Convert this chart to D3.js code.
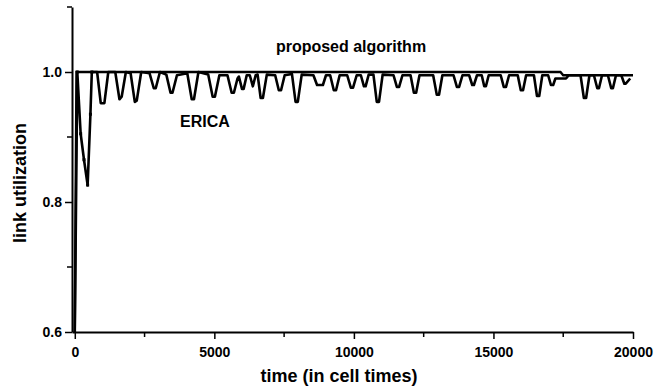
<!DOCTYPE html>
<html>
<head>
<meta charset="utf-8">
<script src="https://cdn.jsdelivr.net/npm/d3@7"></script>
<style>
    body { margin: 0; background: #fff; }
    #chart { width: 654px; height: 386px; }
    .tickLabel { font-family: "Liberation Sans", Arial, sans-serif; font-weight: bold; font-size: 14px; fill: #000; }
    .axisTitle { font-family: "Liberation Sans", Arial, sans-serif; font-weight: bold; font-size: 18px; fill: #000; }
    .note { font-family: "Liberation Sans", Arial, sans-serif; font-weight: bold; font-size: 16px; fill: #000; }
</style>
</head>
<body>
<div id="chart"></div>
<script>

// ERICA trace (time in cell times, link utilization)
let ericaTime = [0, 90, 210, 330, 460, 560, 610,
    800, 930, 1060, 1200,
    1450, 1600, 1680, 1830,
    2000, 2150, 2220, 2380,
    2680, 2830, 2900, 3050,
    3280, 3430, 3500, 3660,
    4030, 4190, 4270, 4430,
    4780, 4940, 5020, 5180,
    5470, 5620, 5700, 5830, 5880, 5990, 6050, 6160,
    6270, 6380, 6480,
    6550, 6660, 6740, 6880,
    7180, 7310, 7390, 7520,
    7780, 7910, 7990, 8130,
    8550, 8680, 8890, 9000,
    9150, 9280, 9360, 9490,
    9760, 9890, 9970, 10100,
    10250, 10360, 10420, 10530,
    10700, 10820, 10900, 11030,
    11420, 11540, 11620, 11740,
    12030, 12150, 12230, 12350,
    12840, 12970, 13050, 13170,
    13570, 13690, 13770, 13890,
    14130, 14240, 14300, 14410,
    14580, 14670, 14730, 14830,
    15260, 15370, 15450, 15560,
    15870, 15980, 16060, 16170,
    16450, 16560, 16640, 16750,
    16960, 17060, 17140, 17220, 17600, 17700,
    18120, 18240, 18320, 18440,
    18600, 18720, 18780, 18890,
    19100, 19220, 19280, 19390,
    19580, 19690, 19740, 19900];

let ericaUtil = [0.6, 1.0, 0.905, 0.865, 0.826, 0.935, 1.0,
    1.0, 0.952, 0.952, 1.0,
    1.0, 0.958, 0.962, 1.0,
    0.998, 0.954, 0.956, 1.0,
    0.998, 0.975, 0.975, 1.0,
    0.996, 0.968, 0.968, 0.995,
    0.998, 0.958, 0.958, 1.0,
    0.996, 0.962, 0.962, 0.995,
    0.995, 0.968, 0.968, 0.99, 0.993, 0.974, 0.974, 0.995,
    0.995, 0.978, 0.995,
    0.996, 0.96, 0.96, 0.996,
    0.995, 0.972, 0.972, 0.995,
    0.997, 0.954, 0.954, 0.996,
    0.995, 0.98, 0.98, 0.995,
    0.995, 0.972, 0.972, 0.995,
    0.995, 0.976, 0.976, 0.995,
    0.995, 0.978, 0.978, 0.996,
    0.996, 0.954, 0.954, 0.996,
    0.995, 0.977, 0.977, 0.995,
    0.995, 0.968, 0.968, 0.995,
    0.995, 0.965, 0.965, 0.995,
    0.995, 0.977, 0.977, 0.995,
    0.995, 0.98, 0.98, 0.995,
    0.995, 0.978, 0.978, 0.995,
    0.995, 0.977, 0.977, 0.995,
    0.995, 0.972, 0.972, 0.995,
    0.995, 0.963, 0.963, 0.995,
    0.995, 0.98, 0.98, 0.99, 0.99, 0.995,
    0.995, 0.96, 0.96, 0.995,
    0.995, 0.975, 0.975, 0.995,
    0.995, 0.975, 0.975, 0.995,
    0.995, 0.982, 0.982, 0.99];

// proposed algorithm trace
let proposedTime = [0, 60, 17400, 17500, 20000];
let proposedUtil = [0.6, 1.0, 1.0, 0.995, 0.995];

// axes
let xTicks = [0, 5000, 10000, 15000, 20000];
let xMinorTicks = [2500, 7500, 12500, 17500];
let yTicks = [0.6, 0.8, 1.0];
let yMinorTicks = [0.7, 0.9, 1.1];
let yTickLabels = ["0.6", "0.8", "1.0"];

class UtilVis {

    constructor(parentElement) {
        this.parentElement = parentElement;
        this.initVis();
    }

    initVis() {
        let vis = this;

        vis.width = 654;
        vis.height = 386;

        vis.svg = d3.select("#" + vis.parentElement).append("svg")
            .attr("width", vis.width)
            .attr("height", vis.height);

        vis.x = d3.scaleLinear()
            .domain([-100, 20000])
            .range([72, 633]);

        vis.y = d3.scaleLinear()
            .domain([0.6, 1.1])
            .range([332, 7]);

        // x axis
        vis.xAxis = d3.axisBottom(vis.x)
            .tickValues(xTicks)
            .tickSize(7)
            .tickSizeOuter(0)
            .tickFormat(d3.format("d"));

        vis.xAxisGroup = vis.svg.append("g")
            .attr("transform", "translate(0," + vis.y(0.6) + ")")
            .call(vis.xAxis);

        vis.xAxisGroup.append("g")
            .selectAll("line")
            .data(xMinorTicks)
            .enter()
            .append("line")
            .attr("x1", d => vis.x(d))
            .attr("x2", d => vis.x(d))
            .attr("y1", 0)
            .attr("y2", 5)
            .attr("stroke", "#000")
            .attr("stroke-width", 1.5);

        // y axis
        vis.yAxis = d3.axisLeft(vis.y)
            .tickValues(yTicks)
            .tickSize(7)
            .tickSizeOuter(0)
            .tickFormat((d, i) => yTickLabels[i]);

        vis.yAxisGroup = vis.svg.append("g")
            .attr("transform", "translate(" + vis.x(-100) + ",0)")
            .call(vis.yAxis);

        vis.yAxisGroup.append("g")
            .selectAll("line")
            .data(yMinorTicks)
            .enter()
            .append("line")
            .attr("x1", 0)
            .attr("x2", -5)
            .attr("y1", d => vis.y(d))
            .attr("y2", d => vis.y(d))
            .attr("stroke", "#000")
            .attr("stroke-width", 1.5);

        vis.svg.selectAll(".domain")
            .attr("stroke", "#000")
            .attr("stroke-width", 2);
        vis.svg.selectAll(".tick line")
            .attr("stroke", "#000")
            .attr("stroke-width", 1.5);
        vis.svg.selectAll(".tick text")
            .attr("class", "tickLabel")
            .attr("font-family", null)
            .attr("font-size", null);
        vis.xAxisGroup.selectAll(".tick text").attr("dy", "1.05em");
        vis.yAxisGroup.selectAll(".tick text").attr("x", -10);

        // axis titles
        vis.svg.append("text")
            .attr("class", "axisTitle")
            .attr("x", 339)
            .attr("y", 382)
            .attr("text-anchor", "middle")
            .text("time (in cell times)");

        vis.svg.append("text")
            .attr("class", "axisTitle")
            .attr("transform", "translate(26,183)rotate(-90)")
            .attr("text-anchor", "middle")
            .text("link utilization");

        // lines
        vis.line = d3.line()
            .x(d => vis.x(d[0]))
            .y(d => vis.y(d[1]));

        let erica = ericaTime.map((t, i) => [t, ericaUtil[i]]);
        let proposed = proposedTime.map((t, i) => [t, proposedUtil[i]]);

        vis.svg.append("path")
            .datum(erica)
            .attr("fill", "none")
            .attr("stroke", "#000")
            .attr("stroke-width", 2.6)
            .attr("stroke-linejoin", "round")
            .attr("d", vis.line);

        vis.svg.append("path")
            .datum(proposed)
            .attr("fill", "none")
            .attr("stroke", "#000")
            .attr("stroke-width", 2.4)
            .attr("d", vis.line);

        // markers on the first ERICA dip
        vis.svg.append("g")
            .selectAll("rect")
            .data(erica.slice(1, 7))
            .enter()
            .append("rect")
            .attr("x", d => vis.x(d[0]) - 1.5)
            .attr("y", d => vis.y(d[1]) - 1.5)
            .attr("width", 3)
            .attr("height", 3)
            .attr("fill", "#000");

        // series labels
        vis.svg.append("text")
            .attr("class", "note")
            .attr("x", 351)
            .attr("y", 52)
            .attr("text-anchor", "middle")
            .text("proposed algorithm");

        vis.svg.append("text")
            .attr("class", "note")
            .attr("x", 205)
            .attr("y", 127)
            .attr("text-anchor", "middle")
            .text("ERICA");
    }
}

new UtilVis("chart");
</script>
</body>
</html>
